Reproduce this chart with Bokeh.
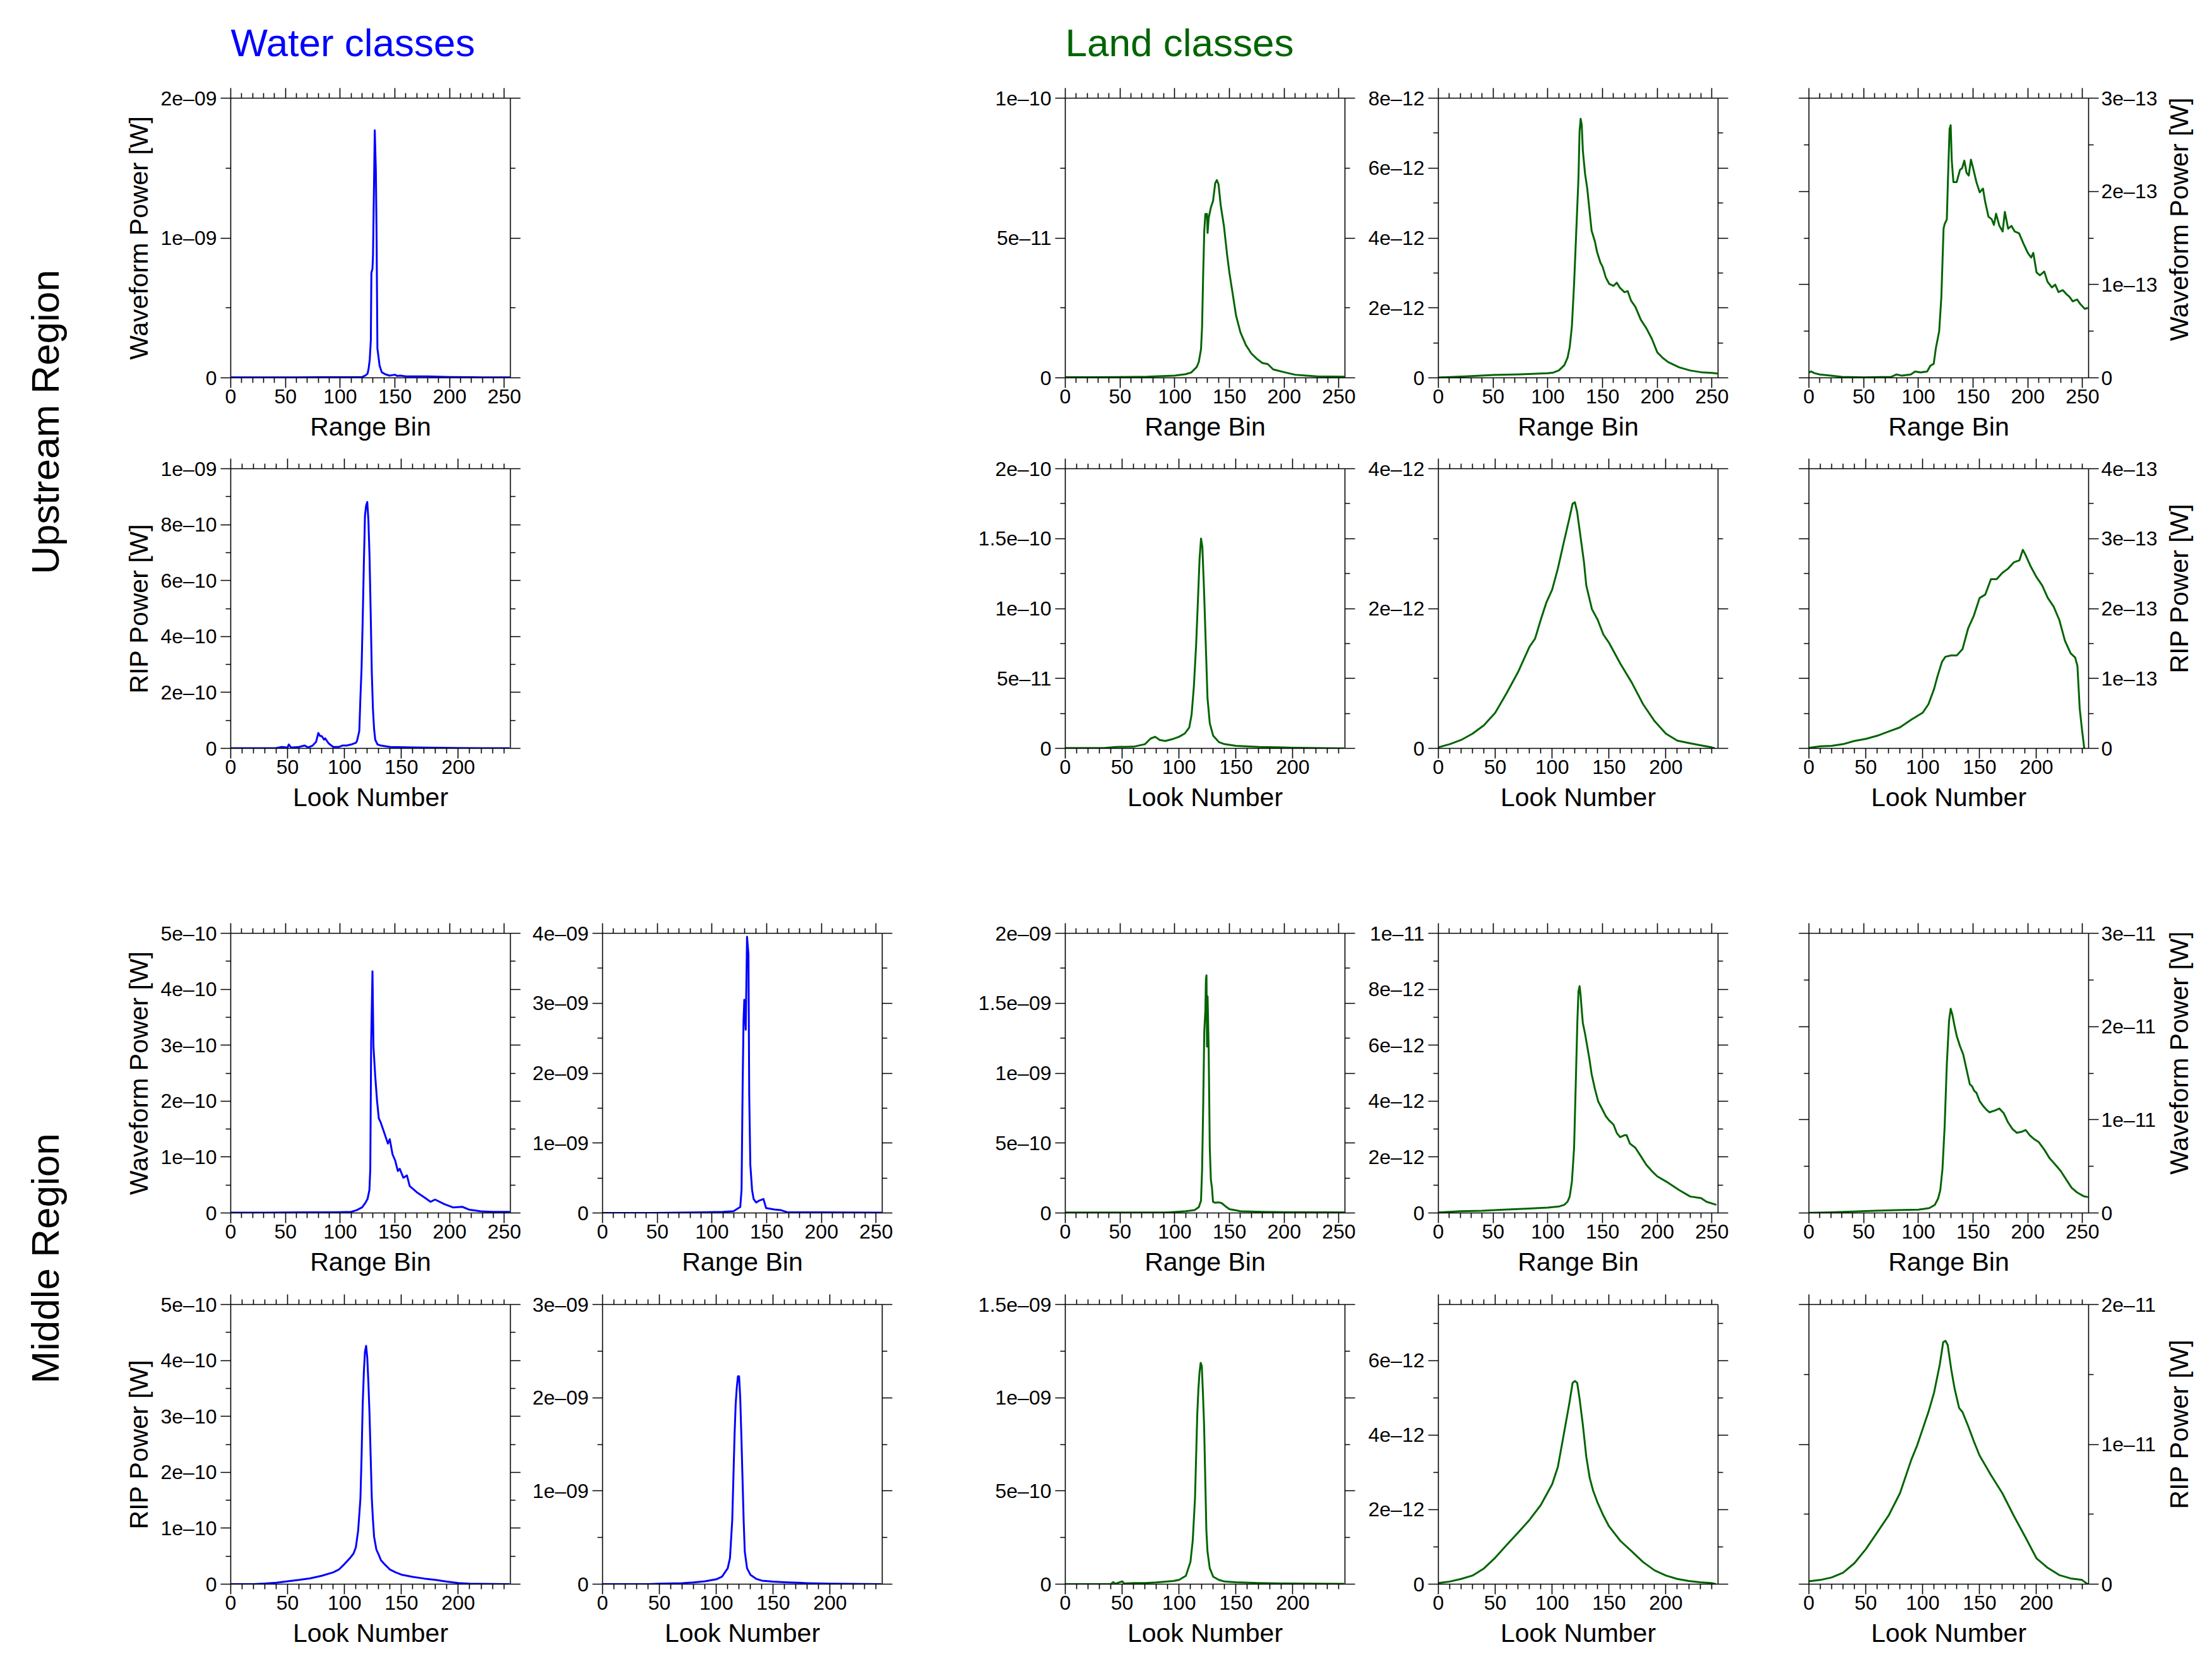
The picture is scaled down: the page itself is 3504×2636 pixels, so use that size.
import math
from bokeh.plotting import figure
from bokeh.models import (Range1d, FixedTicker, CustomJSTickFormatter, BasicTickFormatter,
                          LinearAxis, Spacer, Label)
from bokeh.layouts import row, column
from bokeh.embed import file_html
from bokeh.resources import INLINE

FONT = "Liberation Sans"
BLUE = "#0000ff"
GREEN = "#006400"

# ---------------- tick labels ----------------
RANGE_TICKS = [0, 50, 100, 150, 200, 250]
LOOK_TICKS = [0, 50, 100, 150, 200]
RANGE_MAX = 255.5
LOOK_MAX = 245.8

# ---------------- Upstream region ----------------
# Waveform, water (unit 1e-9 W)
up_wf_water_x = [0, 20, 40, 60, 80, 100, 110, 120, 123, 125, 126, 127, 128, 128.5, 129.5, 130, 130.7, 131.6, 132.6, 133.3, 134, 135, 136, 138, 141, 145, 150, 152, 155, 160, 180, 200, 220, 255]
up_wf_water_y = [0.003, 0.003, 0.003, 0.003, 0.004, 0.004, 0.005, 0.006, 0.016, 0.03, 0.067, 0.13, 0.27, 0.75, 0.78, 0.88, 1.28, 1.77, 1.48, 0.98, 0.21, 0.15, 0.087, 0.04, 0.026, 0.016, 0.022, 0.014, 0.016, 0.01, 0.01, 0.006, 0.004, 0.003]
# RIP, water (unit 1e-10 W)
up_rip_water_x = [0, 20, 40, 45, 50, 51, 53, 60, 65, 68, 72, 75, 77, 78.5, 80, 82, 83, 86, 90, 95, 98, 102, 106, 110, 111, 113, 114, 115, 116, 117, 118, 119, 120, 121, 122, 123, 124, 125, 126, 127, 129, 132, 140, 160, 200, 245]
up_rip_water_y = [0.005, 0.005, 0.01, 0.05, 0.03, 0.14, 0.03, 0.05, 0.1, 0.03, 0.1, 0.23, 0.55, 0.44, 0.44, 0.31, 0.36, 0.18, 0.05, 0.05, 0.1, 0.1, 0.14, 0.2, 0.27, 0.62, 1.83, 2.87, 4.6, 6.6, 8.33, 8.68, 8.81, 8.16, 6.86, 4.87, 2.7, 1.4, 0.7, 0.31, 0.14, 0.1, 0.05, 0.035, 0.01, 0.005]
# Waveform, land 1 (unit 1e-11 W)
up_wf_land1_x = [0, 25, 50, 75, 100, 110, 115, 120, 122, 124, 125, 126, 127, 128, 129.5, 130, 131, 133, 135, 137, 138.5, 140, 142, 145, 148, 150, 153, 156, 160, 165, 170, 175, 180, 185, 190, 200, 210, 220, 230, 255]
up_wf_land1_y = [0.02, 0.02, 0.03, 0.04, 0.08, 0.13, 0.19, 0.38, 0.57, 1.02, 1.85, 3.74, 5.26, 5.86, 5.86, 5.18, 5.71, 6.09, 6.32, 6.96, 7.07, 6.92, 6.17, 5.41, 4.35, 3.74, 2.99, 2.23, 1.63, 1.17, 0.87, 0.68, 0.53, 0.49, 0.3, 0.2, 0.11, 0.08, 0.05, 0.04]
# Waveform, land 2 (unit 1e-12 W)
up_wf_land2_x = [0, 25, 50, 75, 100, 105, 110, 115, 118, 120, 122, 124, 126, 128, 129, 130, 131, 132, 134, 136, 138, 140, 143, 145, 148, 150, 153, 156, 160, 163, 166, 170, 173, 176, 180, 185, 190, 195, 200, 205, 210, 220, 230, 240, 250, 255]
up_wf_land2_y = [0.01, 0.04, 0.08, 0.1, 0.13, 0.15, 0.21, 0.36, 0.57, 0.88, 1.48, 2.69, 4.2, 5.72, 7.05, 7.41, 7.23, 6.5, 5.84, 5.42, 4.81, 4.21, 3.9, 3.6, 3.3, 3.18, 2.87, 2.69, 2.63, 2.72, 2.57, 2.45, 2.48, 2.21, 2.03, 1.66, 1.42, 1.12, 0.73, 0.57, 0.45, 0.3, 0.21, 0.16, 0.14, 0.12]
# Waveform, land 3 (unit 1e-13 W)
up_wf_land3_x = [0, 2, 5, 10, 20, 30, 50, 75, 80, 85, 93, 97, 102, 108, 111, 114, 116, 119, 121, 123, 124, 126, 127, 128.5, 129.5, 130.5, 132, 135, 138, 140, 142, 144, 146, 148, 150, 153, 156, 159, 161, 164, 167, 169, 171, 174, 177, 179, 182, 185, 188, 192, 196, 200, 203, 205, 208, 211, 215, 218, 222, 225, 228, 232, 235, 238, 241, 245, 248, 252, 255]
up_wf_land3_y = [0.057, 0.068, 0.05, 0.036, 0.023, 0.01, 0.005, 0.01, 0.036, 0.023, 0.036, 0.068, 0.057, 0.068, 0.13, 0.15, 0.32, 0.5, 0.87, 1.6, 1.65, 1.7, 2.12, 2.67, 2.71, 2.33, 2.1, 2.1, 2.23, 2.25, 2.33, 2.2, 2.17, 2.34, 2.25, 2.1, 1.99, 2.03, 1.89, 1.73, 1.7, 1.64, 1.76, 1.63, 1.57, 1.78, 1.6, 1.63, 1.57, 1.55, 1.44, 1.34, 1.29, 1.34, 1.13, 1.1, 1.14, 1.03, 0.97, 1.0, 0.92, 0.94, 0.9, 0.87, 0.82, 0.84, 0.79, 0.74, 0.75]
# RIP, land 1 (unit 1e-10 W)
up_rip_land1_x = [0, 20, 35, 45, 60, 70, 75, 79, 83, 88, 95, 100, 105, 109, 111, 113, 115, 116.5, 118, 119.3, 120.5, 122, 123.5, 125, 127, 130, 135, 140, 150, 170, 200, 240, 245]
up_rip_land1_y = [0.002, 0.002, 0.003, 0.01, 0.012, 0.03, 0.07, 0.083, 0.06, 0.053, 0.068, 0.083, 0.106, 0.15, 0.24, 0.44, 0.74, 1.04, 1.35, 1.5, 1.44, 1.12, 0.74, 0.36, 0.18, 0.09, 0.045, 0.03, 0.018, 0.01, 0.005, 0.0, 0.0]
# RIP, land 2 (unit 1e-12 W)
up_rip_land2_x = [0, 10, 20, 30, 40, 50, 60, 70, 80, 85, 90, 95, 100, 105, 110, 115, 118, 120, 122, 125, 128, 130, 135, 140, 145, 150, 160, 170, 180, 190, 200, 210, 220, 230, 240, 243]
up_rip_land2_y = [0.015, 0.06, 0.12, 0.21, 0.33, 0.51, 0.79, 1.09, 1.45, 1.57, 1.84, 2.09, 2.27, 2.57, 2.93, 3.28, 3.5, 3.52, 3.38, 3.02, 2.66, 2.33, 1.99, 1.84, 1.63, 1.51, 1.21, 0.94, 0.63, 0.39, 0.21, 0.11, 0.076, 0.045, 0.015, 0.0]
# RIP, land 3 (unit 1e-13 W)
up_rip_land3_x = [0, 10, 20, 30, 40, 50, 60, 70, 80, 90, 100, 105, 110, 113, 117, 120, 125, 130, 135, 140, 145, 150, 155, 160, 165, 170, 175, 180, 185, 188, 190, 195, 200, 205, 210, 215, 220, 225, 230, 234, 236, 238, 240, 242]
up_rip_land3_y = [0.006, 0.03, 0.036, 0.06, 0.106, 0.136, 0.18, 0.24, 0.3, 0.41, 0.51, 0.63, 0.85, 1.03, 1.24, 1.31, 1.33, 1.33, 1.42, 1.72, 1.9, 2.15, 2.2, 2.42, 2.42, 2.51, 2.57, 2.66, 2.69, 2.84, 2.78, 2.6, 2.45, 2.33, 2.15, 2.03, 1.84, 1.54, 1.36, 1.3, 1.18, 0.57, 0.27, 0.0]

# ---------------- Middle region ----------------
# Waveform, water 1 (unit 1e-10 W)
mid_wf_water1_x = [0, 30, 65, 100, 110, 115, 120, 123, 125, 126.7, 127.5, 128.3, 129.5, 130.4, 132, 133.7, 135.3, 137, 140.3, 143.6, 145.3, 147.8, 150.2, 152.7, 154.4, 157.7, 161, 163.5, 170, 176, 182.5, 186.7, 195, 203, 211.5, 217.7, 228, 240, 255]
mid_wf_water1_y = [0.005, 0.005, 0.01, 0.015, 0.02, 0.05, 0.1, 0.18, 0.25, 0.41, 0.79, 3.05, 4.32, 2.98, 2.45, 2.0, 1.69, 1.62, 1.43, 1.24, 1.32, 1.05, 0.94, 0.75, 0.79, 0.63, 0.67, 0.48, 0.37, 0.29, 0.2, 0.24, 0.16, 0.1, 0.11, 0.06, 0.03, 0.02, 0.02]
# Waveform, water 2 (unit 1e-9 W)
mid_wf_water2_x = [0, 45, 90, 110, 119.6, 125.8, 127, 128, 128.8, 129.5, 130.8, 132, 133.3, 134, 135, 136.6, 138, 140.3, 143.6, 147, 149.4, 157, 163, 169, 200, 255]
mid_wf_water2_y = [0.0, 0.0, 0.01, 0.015, 0.025, 0.085, 0.33, 1.84, 2.75, 3.05, 2.62, 3.95, 3.7, 1.69, 0.69, 0.33, 0.2, 0.15, 0.18, 0.2, 0.07, 0.05, 0.04, 0.01, 0.01, 0.005]
# Waveform, land 1 (unit 1e-9 W)
mid_wf_land1_x = [0, 45, 90, 95, 110, 118, 122, 124, 125, 126, 127, 128, 128.5, 129, 129.5, 130, 131, 132, 133, 134, 135, 137, 140, 143, 146, 150, 155, 160, 180, 200, 255]
mid_wf_land1_y = [0.003, 0.003, 0.003, 0.005, 0.012, 0.02, 0.042, 0.088, 0.31, 0.77, 1.3, 1.45, 1.67, 1.7, 1.19, 1.55, 1.17, 0.47, 0.24, 0.18, 0.08, 0.073, 0.076, 0.07, 0.05, 0.027, 0.02, 0.012, 0.008, 0.006, 0.004]
# Waveform, land 2 (unit 1e-12 W)
mid_wf_land2_x = [0, 20, 40, 60, 80, 100, 110, 115, 118, 120, 122, 124, 125, 126, 127, 128, 129, 130, 131, 132, 134, 136, 138, 140, 143, 146, 150, 153, 156, 160, 163, 166, 170, 172, 175, 180, 185, 190, 195, 200, 210, 220, 230, 240, 245, 254]
mid_wf_land2_y = [0.02, 0.06, 0.08, 0.12, 0.15, 0.19, 0.23, 0.29, 0.4, 0.59, 1.12, 2.33, 3.84, 5.35, 6.86, 7.92, 8.11, 7.77, 7.24, 6.79, 6.41, 5.96, 5.5, 4.97, 4.44, 3.99, 3.69, 3.46, 3.31, 3.16, 2.86, 2.71, 2.78, 2.78, 2.48, 2.33, 2.03, 1.72, 1.5, 1.31, 1.08, 0.82, 0.59, 0.53, 0.4, 0.29]
# Waveform, land 3 (unit 1e-11 W)
mid_wf_land3_x = [0, 20, 40, 60, 80, 100, 110, 115, 118, 120, 122, 124, 126, 128, 129.5, 131, 133, 135, 138, 141, 144, 147, 149, 151, 153, 156, 159, 162, 165, 170, 174, 178, 182, 186, 190, 194, 198, 202, 206, 210, 215, 220, 225, 230, 235, 240, 245, 251, 255]
mid_wf_land3_y = [0.002, 0.007, 0.016, 0.023, 0.03, 0.036, 0.052, 0.086, 0.154, 0.245, 0.47, 0.93, 1.6, 2.06, 2.19, 2.13, 2.01, 1.9, 1.79, 1.7, 1.54, 1.38, 1.36, 1.31, 1.29, 1.2, 1.15, 1.11, 1.08, 1.1, 1.12, 1.07, 0.97, 0.9, 0.86, 0.87, 0.89, 0.83, 0.79, 0.76, 0.68, 0.585, 0.52, 0.45, 0.36, 0.27, 0.22, 0.18, 0.17]
# RIP, water 1 (unit 1e-10 W)
mid_rip_water1_x = [0, 20, 30, 40, 50, 60, 70, 80, 90, 95, 100, 105, 108, 110, 112, 114, 115, 116, 117, 118, 119, 120, 121, 122, 123, 124, 125, 126, 128, 130, 132, 135, 140, 145, 150, 160, 170, 180, 190, 200, 210, 245]
mid_rip_water1_y = [0.0, 0.0, 0.01, 0.026, 0.05, 0.075, 0.105, 0.15, 0.21, 0.26, 0.36, 0.47, 0.55, 0.66, 0.96, 1.53, 2.28, 3.22, 3.79, 4.16, 4.26, 4.05, 3.6, 3.03, 2.28, 1.53, 1.15, 0.85, 0.62, 0.53, 0.43, 0.36, 0.26, 0.21, 0.17, 0.13, 0.1, 0.075, 0.045, 0.02, 0.008, 0.0]
# RIP, water 2 (unit 1e-9 W)
mid_rip_water2_x = [0, 40, 50, 70, 80, 90, 100, 105, 110, 112, 114, 115, 116, 117, 118, 119, 120, 121, 122, 123, 124, 125, 127, 130, 135, 140, 150, 160, 180, 200, 245]
mid_rip_water2_y = [0.0, 0.0, 0.005, 0.011, 0.018, 0.03, 0.052, 0.08, 0.17, 0.28, 0.69, 1.14, 1.59, 1.93, 2.11, 2.23, 2.23, 2.0, 1.59, 1.14, 0.69, 0.35, 0.17, 0.1, 0.057, 0.038, 0.027, 0.02, 0.011, 0.005, 0.0]
# RIP, land 1 (unit 1e-10 W)
mid_rip_land1_x = [0, 40, 42, 44, 50, 52, 60, 70, 80, 90, 95, 100, 103, 106, 110, 112, 114, 115, 116, 117, 118, 119, 120, 121, 122, 123, 124, 125, 127, 130, 135, 140, 150, 170, 200, 245]
mid_rip_land1_y = [0.0, 0.0, 0.11, 0.02, 0.15, 0.03, 0.06, 0.06, 0.09, 0.14, 0.17, 0.23, 0.34, 0.45, 1.19, 2.32, 4.58, 6.84, 9.1, 10.45, 11.36, 11.87, 11.7, 10.23, 8.53, 5.71, 2.88, 1.75, 0.85, 0.4, 0.23, 0.14, 0.1, 0.06, 0.03, 0.02]
# RIP, land 2 (unit 1e-12 W)
mid_rip_land2_x = [0, 10, 20, 30, 40, 50, 60, 70, 80, 90, 95, 100, 105, 110, 115, 118, 120, 122, 124, 127, 130, 133, 136, 140, 145, 150, 160, 170, 180, 190, 200, 210, 220, 230, 240, 244]
mid_rip_land2_y = [0.03, 0.07, 0.14, 0.23, 0.42, 0.71, 1.05, 1.38, 1.72, 2.12, 2.4, 2.68, 3.14, 3.98, 4.83, 5.4, 5.45, 5.4, 5.0, 4.27, 3.42, 2.85, 2.51, 2.18, 1.84, 1.55, 1.16, 0.88, 0.59, 0.37, 0.23, 0.14, 0.085, 0.05, 0.03, 0.0]
# RIP, land 3 (unit 1e-11 W)
mid_rip_land3_x = [0, 10, 20, 30, 40, 50, 60, 70, 80, 85, 90, 95, 100, 105, 110, 115, 118, 120, 122, 125, 128, 132, 135, 140, 145, 150, 160, 170, 180, 190, 200, 210, 220, 230, 240, 245]
mid_rip_land3_y = [0.02, 0.03, 0.048, 0.082, 0.15, 0.25, 0.37, 0.49, 0.65, 0.77, 0.89, 0.99, 1.11, 1.23, 1.37, 1.57, 1.73, 1.74, 1.71, 1.54, 1.4, 1.26, 1.23, 1.13, 1.02, 0.92, 0.78, 0.65, 0.49, 0.34, 0.185, 0.116, 0.065, 0.041, 0.03, 0.0]

# y-axis major ticks per panel
yt_up_wf_water = [0, 1e-9, 2e-9]
yt_up_wf_land1 = [0, 5e-11, 1e-10]
yt_up_wf_land2 = [0, 2e-12, 4e-12, 6e-12, 8e-12]
yt_up_wf_land3 = [0, 1e-13, 2e-13, 3e-13]
yt_up_rip_water = [0, 2e-10, 4e-10, 6e-10, 8e-10, 1e-9]
yt_up_rip_land1 = [0, 5e-11, 1e-10, 1.5e-10, 2e-10]
yt_up_rip_land2 = [0, 2e-12, 4e-12]
yt_up_rip_land3 = [0, 1e-13, 2e-13, 3e-13, 4e-13]
yt_mid_wf_water1 = [0, 1e-10, 2e-10, 3e-10, 4e-10, 5e-10]
yt_mid_wf_water2 = [0, 1e-9, 2e-9, 3e-9, 4e-9]
yt_mid_wf_land1 = [0, 5e-10, 1e-9, 1.5e-9, 2e-9]
yt_mid_wf_land2 = [0, 2e-12, 4e-12, 6e-12, 8e-12, 1e-11]
yt_mid_wf_land3 = [0, 1e-11, 2e-11, 3e-11]
yt_mid_rip_water1 = [0, 1e-10, 2e-10, 3e-10, 4e-10, 5e-10]
yt_mid_rip_water2 = [0, 1e-9, 2e-9, 3e-9]
yt_mid_rip_land1 = [0, 5e-10, 1e-9, 1.5e-9]
yt_mid_rip_land2 = [0, 2e-12, 4e-12, 6e-12]
yt_mid_rip_land3 = [0, 1e-11, 2e-11]

FMT_CODE = """
if (tick == 0) { return "0"; }
const s = tick.toExponential();
const parts = s.split("e");
let e = parseInt(parts[1]);
const sign = e < 0 ? "\u2013" : "+";
e = Math.abs(e);
return parts[0] + "e" + sign + (e < 10 ? "0" + e : String(e));
"""
EMPTY_CODE = "return '';"

FRAME = 443
STRIP_W = 130
TITLE_H = 120
RIGHT_W = 68
COL_BORDERS = [(235, 32), (114, 33), (257, 30), (118, 29), (115, 120)]
ROW_BORDERS = [(35, 114), (30, 115), (30, 115), (30, 115)]
XLABELS = ["Range Bin", "Look Number", "Range Bin", "Look Number"]
YLABELS = ["Waveform Power [W]", "RIP Power [W]", "Waveform Power [W]", "RIP Power [W]"]
TICK_FS = "32px"
LABEL_FS = "41px"
BIG_FS = "62px"


def style_axis(ax, show_labels):
    ax.axis_line_color = "black"
    ax.axis_line_width = 1.6
    ax.major_tick_line_color = "black"
    ax.minor_tick_line_color = "black"
    ax.major_tick_line_width = 1.6
    ax.minor_tick_line_width = 1.6
    ax.major_tick_out = 16
    ax.major_tick_in = 0
    ax.minor_tick_out = 8
    ax.minor_tick_in = 0
    ax.major_label_text_font = FONT
    ax.major_label_text_color = "black"
    ax.major_label_text_font_size = TICK_FS
    ax.axis_label_text_font = FONT
    ax.axis_label_text_font_style = "normal"
    ax.axis_label_text_font_size = LABEL_FS
    ax.axis_label_text_color = "black"
    if not show_labels:
        ax.major_label_standoff = 0


def make_panel(r, c, xs, ys, unit, color, yticks, ymax):
    look = (r % 2 == 1)
    xmax = LOOK_MAX if look else RANGE_MAX
    xmaj = LOOK_TICKS if look else RANGE_TICKS
    xmin = [v for v in range(10, 250, 10) if v % 50 != 0]
    step = yticks[1] - yticks[0]
    ymin = [t + step / 2 for t in yticks if t + step / 2 <= ymax * 1.0001]
    lb, rb = COL_BORDERS[c]
    tb, bb = ROW_BORDERS[r]
    p = figure(frame_width=FRAME, frame_height=FRAME,
               x_range=Range1d(0, xmax), y_range=Range1d(0, ymax),
               output_backend="svg", toolbar_location=None,
               x_axis_location=None, y_axis_location=None,
               min_border_left=lb, min_border_right=rb,
               min_border_top=tb, min_border_bottom=bb)
    p.outline_line_color = None
    p.xgrid.visible = False
    p.ygrid.visible = False
    p.background_fill_color = "white"
    p.border_fill_color = "white"

    for loc in ("below", "above"):
        labeled = (loc == "below")
        fmt = BasicTickFormatter() if labeled else CustomJSTickFormatter(code=EMPTY_CODE)
        ax = LinearAxis(ticker=FixedTicker(ticks=xmaj, minor_ticks=xmin), formatter=fmt)
        style_axis(ax, labeled)
        if labeled:
            ax.axis_label = XLABELS[r]
            ax.major_label_standoff = 2
            ax.axis_label_standoff = 11
        p.add_layout(ax, loc)
    for loc in ("left", "right"):
        labeled = (loc == "left" and c != 4) or (loc == "right" and c == 4)
        ax = LinearAxis(ticker=FixedTicker(ticks=yticks, minor_ticks=ymin),
                        formatter=CustomJSTickFormatter(code=FMT_CODE if labeled else EMPTY_CODE))
        style_axis(ax, labeled)
        if labeled:
            ax.major_label_standoff = 6 if loc == "left" else 4
        if loc == "left" and c == 0:
            ax.axis_label = YLABELS[r]
            ax.axis_label_standoff = 9
        p.add_layout(ax, loc)

    p.line([float(v) for v in xs], [v * unit for v in ys], line_color=color,
           line_width=3, line_join="round")
    return p


def strip(width, height):
    s = figure(width=width, height=height, x_range=Range1d(0, width), y_range=Range1d(0, height),
               output_backend="svg", toolbar_location=None, min_border=0,
               x_axis_location=None, y_axis_location=None)
    s.outline_line_color = None
    s.xgrid.visible = False
    s.ygrid.visible = False
    return s


specs = {
    (0, 0): (up_wf_water_x, up_wf_water_y, 1e-9, BLUE, yt_up_wf_water, 2e-9),
    (0, 2): (up_wf_land1_x, up_wf_land1_y, 1e-11, GREEN, yt_up_wf_land1, 1e-10),
    (0, 3): (up_wf_land2_x, up_wf_land2_y, 1e-12, GREEN, yt_up_wf_land2, 8e-12),
    (0, 4): (up_wf_land3_x, up_wf_land3_y, 1e-13, GREEN, yt_up_wf_land3, 3e-13),
    (1, 0): (up_rip_water_x, up_rip_water_y, 1e-10, BLUE, yt_up_rip_water, 1e-9),
    (1, 2): (up_rip_land1_x, up_rip_land1_y, 1e-10, GREEN, yt_up_rip_land1, 2e-10),
    (1, 3): (up_rip_land2_x, up_rip_land2_y, 1e-12, GREEN, yt_up_rip_land2, 4e-12),
    (1, 4): (up_rip_land3_x, up_rip_land3_y, 1e-13, GREEN, yt_up_rip_land3, 4e-13),
    (2, 0): (mid_wf_water1_x, mid_wf_water1_y, 1e-10, BLUE, yt_mid_wf_water1, 5e-10),
    (2, 1): (mid_wf_water2_x, mid_wf_water2_y, 1e-9, BLUE, yt_mid_wf_water2, 4e-9),
    (2, 2): (mid_wf_land1_x, mid_wf_land1_y, 1e-9, GREEN, yt_mid_wf_land1, 2e-9),
    (2, 3): (mid_wf_land2_x, mid_wf_land2_y, 1e-12, GREEN, yt_mid_wf_land2, 1e-11),
    (2, 4): (mid_wf_land3_x, mid_wf_land3_y, 1e-11, GREEN, yt_mid_wf_land3, 3e-11),
    (3, 0): (mid_rip_water1_x, mid_rip_water1_y, 1e-10, BLUE, yt_mid_rip_water1, 5e-10),
    (3, 1): (mid_rip_water2_x, mid_rip_water2_y, 1e-9, BLUE, yt_mid_rip_water2, 3e-9),
    (3, 2): (mid_rip_land1_x, mid_rip_land1_y, 1e-10, GREEN, yt_mid_rip_land1, 1.5e-9),
    (3, 3): (mid_rip_land2_x, mid_rip_land2_y, 1e-12, GREEN, yt_mid_rip_land2, 7.5e-12),
    (3, 4): (mid_rip_land3_x, mid_rip_land3_y, 1e-11, GREEN, yt_mid_rip_land3, 2e-11),
}

rows = []
for r in range(4):
    tb, bb = ROW_BORDERS[r]
    h = tb + FRAME + bb
    kids = []
    for c in range(5):
        if (r, c) in specs:
            xs, ys, unit, color, yt, ymax = specs[(r, c)]
            kids.append(make_panel(r, c, xs, ys, unit, color, yt, ymax))
        else:
            lb, rb = COL_BORDERS[c]
            kids.append(Spacer(width=lb + FRAME + rb, height=h))
    # right-hand axis title strip (reads bottom to top, like the left titles)
    rs = strip(RIGHT_W, h)
    rs.add_layout(Label(x=23, y=bb + FRAME / 2, text=YLABELS[r], angle=math.pi / 2,
                        text_font=FONT, text_font_size=LABEL_FS, text_color="black",
                        text_align="center", text_baseline="middle"))
    kids.append(rs)
    rows.append(row(*kids))

TOTAL_W = STRIP_W + sum(l + FRAME + rr for l, rr in COL_BORDERS) + RIGHT_W

title = strip(TOTAL_W, TITLE_H)
for txt, xpos, col in (("Water classes", 365, BLUE), ("Land classes", 1687, GREEN)):
    title.add_layout(Label(x=xpos, y=TITLE_H - 67, text=txt, text_font=FONT, text_font_size=BIG_FS,
                           text_color=col, text_align="left", text_baseline="middle"))

up_h = sum(ROW_BORDERS[0]) + FRAME + sum(ROW_BORDERS[1]) + FRAME
mid_h = sum(ROW_BORDERS[2]) + FRAME + sum(ROW_BORDERS[3]) + FRAME
strip_up = strip(STRIP_W, up_h)
strip_up.add_layout(Label(x=71, y=up_h - 548, text="Upstream Region", angle=math.pi / 2,
                          text_font=FONT, text_font_size=BIG_FS, text_color="black",
                          text_align="center", text_baseline="middle"))
strip_mid = strip(STRIP_W, mid_h)
strip_mid.add_layout(Label(x=71, y=mid_h - 545, text="Middle Region", angle=math.pi / 2,
                           text_font=FONT, text_font_size=BIG_FS, text_color="black",
                           text_align="center", text_baseline="middle"))

layout = column(
    title,
    row(strip_up, column(rows[0], rows[1])),
    Spacer(width=TOTAL_W, height=148),
    row(strip_mid, column(rows[2], rows[3])),
)

open("out.html", "w").write(file_html(layout, INLINE))
